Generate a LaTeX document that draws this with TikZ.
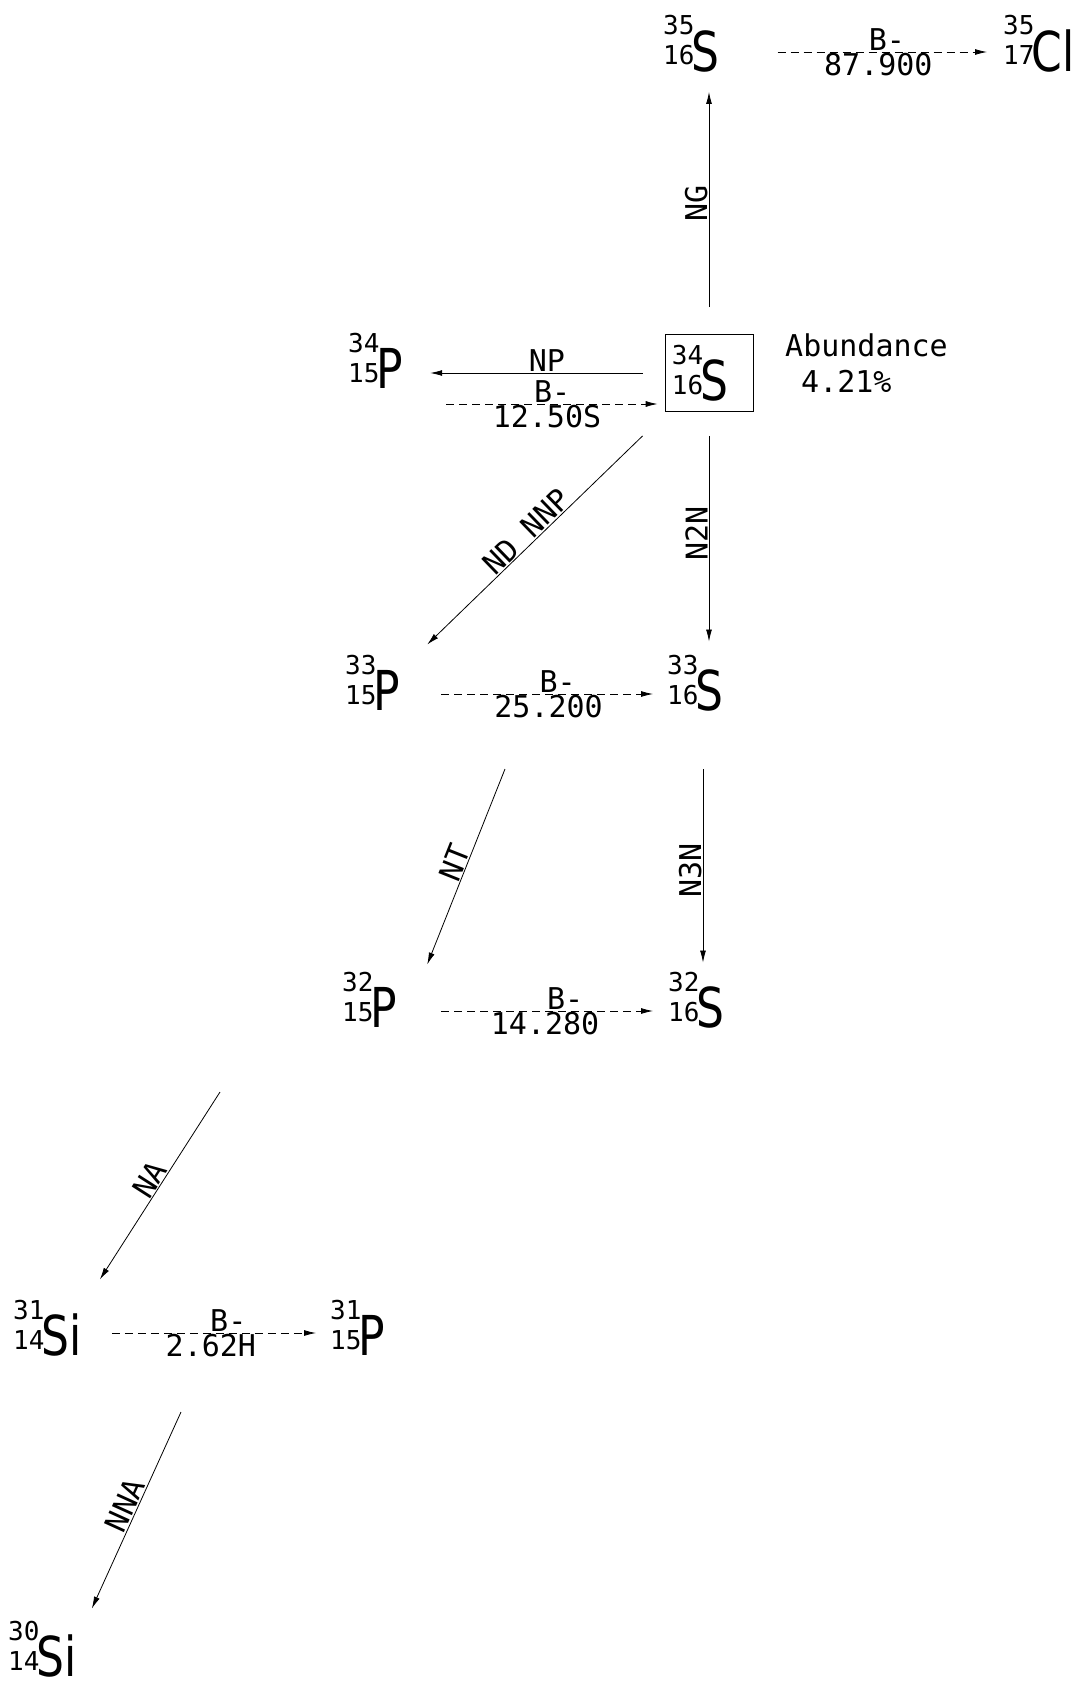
\documentclass[tikz,border=0pt]{standalone}
\usepackage{fontspec}
\usetikzlibrary{arrows.meta}
\newfontfamily\monofam{DejaVu Sans Mono}
\newfontfamily\elemfam[FakeStretch=0.8]{DejaVu Sans}
\newcommand{\txtfont}{\monofam\fontsize{30}{36}\selectfont}
\newcommand{\digfont}{\monofam\fontsize{26}{28}\selectfont}
\newcommand{\elemfont}{\elemfam\fontsize{55}{60}\selectfont}
\newcommand{\iso}[3]{{\digfont\rlap{\raisebox{36pt}{#1}}\raisebox{6pt}{#2}}\kern-3pt#3}

\begin{document}
\begin{tikzpicture}[
  x=1pt, y=-1pt,
  nuclide/.style={inner sep=0pt, anchor=base west, font=\elemfont},
  target/.style={draw, line width=0.8pt, inner sep=0pt, minimum width=88pt, minimum height=77pt, font=\elemfont},
  lbl/.style={font=\txtfont, inner sep=1pt},
  uplbl/.style={lbl, rotate=90, anchor=south},
  rx/.style={->, line width=0.8pt},
  decay/.style={->, line width=0.8pt, dash pattern=on 8pt off 5pt},
  >={Latex[length=12pt,width=6pt]}
]
\useasboundingbox (0,0) rectangle (1081,1686);

% nuclides
\node[nuclide] (s35) at (663,71) {\iso{35}{16}{S}};
\node[nuclide] (cl35) at (1003,71) {\iso{35}{17}{Cl}};
\node[nuclide] (p34) at (348,388) {\iso{34}{15}{P}};
\node[target] (b34) at (709,373) {\iso{34}{16}{S}\hspace*{18pt}};
\node[lbl, anchor=north west, inner sep=0pt, align=left] (abund) at (785,334) {Abundance\\\hspace*{16pt}4.21\%};
\node[nuclide] (p33) at (345,710) {\iso{33}{15}{P}};
\node[nuclide] (s33) at (667,710) {\iso{33}{16}{S}};
\node[nuclide] (p32) at (342,1027) {\iso{32}{15}{P}};
\node[nuclide] (s32) at (668,1027) {\iso{32}{16}{S}};
\node[nuclide] (si31) at (13,1355) {\iso{31}{14}{Si}};
\node[nuclide] (p31) at (330,1355) {\iso{31}{15}{P}};
\node[nuclide] (si30) at (8,1676) {\iso{30}{14}{Si}};

% free ends of the long reactions
\coordinate (ntfrom) at (505,769);
\coordinate (n3nfrom) at (703,769);
\coordinate (nafrom) at (220,1092);
\coordinate (nnafrom) at (181,1412);

% reactions on 34S
\draw[rx, shorten <=27pt, shorten >=20pt] (b34.north) -- node[uplbl] {NG} (b34.north |- s35.south);
\draw[rx, shorten <=22pt, shorten >=27pt] (b34.west) -- node[lbl, above, pos=0.45] {NP} ([yshift=15pt]p34.base east);
\draw[rx] ([xshift=-22pt,yshift=-24pt]b34.south west) -- node[lbl, sloped, above] {ND NNP} ([xshift=27pt,yshift=10pt]p33.north east);
\draw[rx, shorten <=24pt, shorten >=13pt] (b34.south) -- node[uplbl] {N2N} (b34.south |- s33.north);
\draw[rx] (ntfrom) -- node[lbl, sloped, above] {NT} ([xshift=30pt,yshift=7pt]p32.north east);
\draw[rx, shorten >=9pt] (n3nfrom) -- node[uplbl] {N3N} (n3nfrom |- s32.north);
\draw[rx] (nafrom) -- node[lbl, sloped, above] {NA} ([xshift=18pt,yshift=20pt]si31.north east);
\draw[rx] (nnafrom) -- node[lbl, sloped, above] {NNA} ([xshift=15pt,yshift=12pt]si30.north east);

% beta decays
\draw[decay, shorten <=58pt, shorten >=16pt] ([yshift=19pt]s35.base east) -- node[lbl, above, pos=0.59] {B-} node[lbl, below, pos=0.56] {87.900} ([yshift=19pt]cl35.base west);
\draw[decay, shorten <=43pt, shorten >=7pt] ([yshift=-16pt]p34.base east) -- node[lbl, above, pos=0.57] {B-} node[lbl, below, pos=0.55] {12.50S} ([yshift=-31pt]b34.west);
\draw[decay, shorten <=41pt, shorten >=14pt] ([yshift=16pt]p33.base east) -- node[lbl, above, pos=0.59] {B-} node[lbl, below, pos=0.556] {25.200} ([yshift=16pt]s33.base west);
\draw[decay, shorten <=44pt, shorten >=15pt] ([yshift=16pt]p32.base east) -- node[lbl, above, pos=0.62] {B-} node[lbl, below, pos=0.546] {14.280} ([yshift=16pt]s32.base west);
\draw[decay, shorten <=30pt, shorten >=14pt] ([yshift=22pt]si31.base east) -- node[lbl, above, pos=0.59] {B-} node[lbl, below, pos=0.52] {2.62H} ([yshift=22pt]p31.base west);
\end{tikzpicture}
\end{document}
